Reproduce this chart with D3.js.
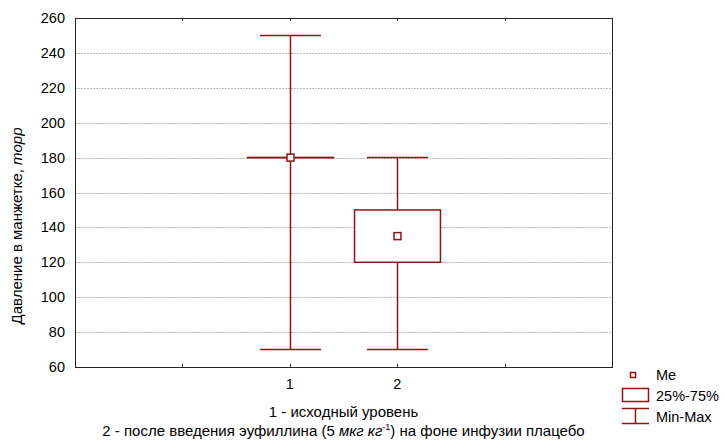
<!DOCTYPE html>
<html>
<head>
<meta charset="utf-8">
<script src="https://cdn.jsdelivr.net/npm/d3@7"></script>
<style>
body { margin: 0; background: #fff; }
svg { font-family: "Liberation Sans", Arial, sans-serif; }
</style>
</head>
<body>
<div id="chart"></div>
<script>
var groups = ["1", "2"];
var minVals = [70, 70];
var maxVals = [250, 180];
var q1Vals = [180, 120];
var q3Vals = [180, 150];
var medVals = [180, 135];
var yTicks = [60, 80, 100, 120, 140, 160, 180, 200, 220, 240, 260];

var W = 725, H = 443;
var margin = {top: 18, right: 113, bottom: 76, left: 75},
    width = W - margin.left - margin.right,
    height = H - margin.top - margin.bottom;
var col = "#8b1414";
var fs = 14.5;

var svg = d3.select("#chart").append("svg")
    .attr("width", W)
    .attr("height", H);
var g = svg.append("g")
    .attr("transform", "translate(" + margin.left + "," + margin.top + ")");

var x = d3.scaleLinear().domain([0, 5]).range([0, width]);
var y = d3.scaleLinear().domain([60, 260]).range([height, 0]);
var band = x(1) - x(0);

// grid
g.selectAll(".grid").data(yTicks.slice(1, -1)).enter().append("line")
    .attr("x1", 0).attr("x2", width)
    .attr("y1", function (d) { return Math.round(y(d)) + 0.5; })
    .attr("y2", function (d) { return Math.round(y(d)) + 0.5; })
    .attr("stroke", "#b8b8b8")
    .attr("stroke-dasharray", "2,1");

// y tick labels
g.selectAll(".ylab").data(yTicks).enter().append("text")
    .attr("x", -10)
    .attr("y", function (d) { return y(d) + 5; })
    .attr("text-anchor", "end")
    .attr("font-size", fs)
    .text(function (d) { return d; });

// x ticks top and bottom
var xt = [1, 2, 3, 4];
g.selectAll(".xtb").data(xt).enter().append("line")
    .attr("x1", function (d) { return Math.round(x(d)) + 0.5; })
    .attr("x2", function (d) { return Math.round(x(d)) + 0.5; })
    .attr("y1", height).attr("y2", height - 3)
    .attr("stroke", "#333");
g.selectAll(".xtt").data(xt).enter().append("line")
    .attr("x1", function (d) { return Math.round(x(d)) + 0.5; })
    .attr("x2", function (d) { return Math.round(x(d)) + 0.5; })
    .attr("y1", 0).attr("y2", 3)
    .attr("stroke", "#333");

// x labels
g.selectAll(".xlab").data(groups).enter().append("text")
    .attr("x", function (d, i) { return x(2 + i); })
    .attr("y", height + 22)
    .attr("text-anchor", "middle")
    .attr("font-size", fs)
    .text(function (d) { return d; });

// boxes
var bw = band * 0.8, cw = band * 0.57;
groups.forEach(function (gname, i) {
    var cx = Math.round(x(2 + i)) + 0.5;
    var b = g.append("g").attr("stroke", col).attr("stroke-width", 1.5).attr("fill", "none");
    b.append("line").attr("x1", cx).attr("x2", cx)
        .attr("y1", y(maxVals[i])).attr("y2", y(q3Vals[i]));
    b.append("line").attr("x1", cx).attr("x2", cx)
        .attr("y1", y(q1Vals[i])).attr("y2", y(minVals[i]));
    b.append("line").attr("x1", cx - cw / 2).attr("x2", cx + cw / 2)
        .attr("y1", y(maxVals[i])).attr("y2", y(maxVals[i]));
    b.append("line").attr("x1", cx - cw / 2).attr("x2", cx + cw / 2)
        .attr("y1", y(minVals[i])).attr("y2", y(minVals[i]));
    b.append("rect")
        .attr("x", cx - bw / 2).attr("width", bw)
        .attr("y", y(q3Vals[i])).attr("height", Math.max(0.01, y(q1Vals[i]) - y(q3Vals[i])))
        .attr("fill", "#fff");
    if (q1Vals[i] === q3Vals[i]) {
        b.append("line").attr("x1", cx - bw / 2).attr("x2", cx + bw / 2)
            .attr("y1", y(q1Vals[i])).attr("y2", y(q1Vals[i]));
    }
    b.append("rect")
        .attr("x", cx - 3.5).attr("y", y(medVals[i]) - 3.5)
        .attr("width", 7).attr("height", 7)
        .attr("fill", "#fff");
});

// frame
g.append("rect")
    .attr("x", 0.5).attr("y", 0.5)
    .attr("width", width).attr("height", height)
    .attr("fill", "none")
    .attr("stroke", "#222");

// y axis title
var yt = svg.append("text")
    .attr("transform", "translate(22,226) rotate(-90)")
    .attr("text-anchor", "middle")
    .attr("font-size", 15);
yt.append("tspan").text("Давление в манжетке, ");
yt.append("tspan").attr("font-style", "italic").text("торр");

// x axis title
var cxm = margin.left + width / 2;
svg.append("text")
    .attr("x", cxm).attr("y", 417)
    .attr("text-anchor", "middle")
    .attr("font-size", 15)
    .text("1 - исходный уровень");
var l2 = svg.append("text")
    .attr("x", cxm).attr("y", 436)
    .attr("text-anchor", "middle")
    .attr("font-size", 15);
l2.append("tspan").text("2 - после введения эуфиллина (5 ");
l2.append("tspan").attr("font-style", "italic").text("мкг кг");
l2.append("tspan").attr("font-size", 9).attr("dy", -6).text("-1");
l2.append("tspan").attr("dy", 6).text(") на фоне инфузии плацебо");

// legend
var lg = svg.append("g").attr("stroke", col).attr("stroke-width", 1.5).attr("fill", "none");
lg.append("rect").attr("x", 630.5).attr("y", 372.5).attr("width", 5).attr("height", 5).attr("fill", "#fff");
lg.append("rect").attr("x", 622.5).attr("y", 388.5).attr("width", 26).attr("height", 13);
lg.append("line").attr("x1", 622).attr("x2", 649).attr("y1", 408.5).attr("y2", 408.5);
lg.append("line").attr("x1", 622).attr("x2", 649).attr("y1", 423.5).attr("y2", 423.5);
lg.append("line").attr("x1", 635.5).attr("x2", 635.5).attr("y1", 408.5).attr("y2", 423.5);
var legText = ["Me", "25%-75%", "Min-Max"];
var legY = [380, 401, 422];
svg.selectAll(".legt").data(legText).enter().append("text")
    .attr("x", 656)
    .attr("y", function (d, i) { return legY[i]; })
    .attr("font-size", fs)
    .text(function (d) { return d; });
</script>
</body>
</html>
